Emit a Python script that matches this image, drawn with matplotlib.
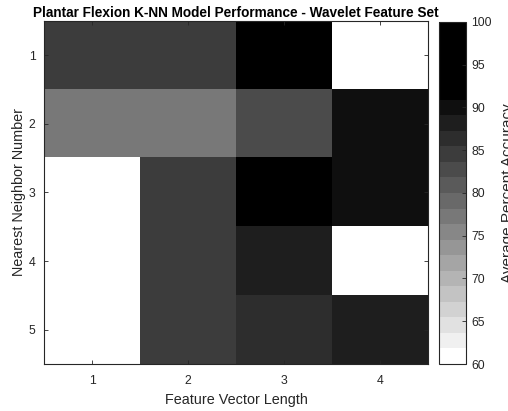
import numpy as np
import matplotlib.pyplot as plt
from matplotlib.colors import ListedColormap

plt.rcParams['font.family'] = ['Liberation Sans', 'DejaVu Sans']

# average percent accuracy, rows = nearest neighbor number, cols = feature vector length
neighbors = [1, 2, 3, 4, 5]
vec_length = [1, 2, 3, 4]
acc = np.array([
    [84.6, 84.6, 95.0, 60.0],
    [77.0, 77.0, 82.7, 90.0],
    [60.0, 84.6, 95.0, 90.0],
    [60.0, 84.6, 88.2, 60.0],
    [60.0, 84.6, 86.4, 88.2],
])

# stepped gray map, white at 60 and black near the top
levels = [max(0, 255 - 15 * k) / 255 for k in range(22)]
cmap = ListedColormap([(g, g, g) for g in levels])

txt = '#262626'

fig = plt.figure(figsize=(5.08, 4.11), dpi=100)
ax = fig.add_axes([44 / 508, 47 / 411, 384 / 508, 343 / 411])
cax = fig.add_axes([439 / 508, 47 / 411, 27 / 508, 342 / 411])

im = ax.imshow(acc, cmap=cmap, vmin=60, vmax=100, aspect='auto',
               extent=[0.5, 4.5, 5.5, 0.5], interpolation='nearest')

ax.set_xticks(vec_length)
ax.set_yticks(neighbors)
ax.tick_params(direction='in', length=3, width=0.6, colors=txt, labelsize=8.8,
               top=True, right=True, labelcolor=txt)
ax.tick_params(axis='x', pad=8)
ax.tick_params(axis='y', pad=6)
for s in ax.spines.values():
    s.set_linewidth(0.8)
    s.set_color('#262626')

ax.set_xlabel('Feature Vector Length', fontsize=10.4, color=txt, labelpad=4)
ax.set_ylabel('Nearest Neighbor Number', fontsize=10.4, color=txt, labelpad=2)
ax.set_title('Plantar Flexion K-NN Model Performance - Wavelet Feature Set',
             fontsize=9.8, fontweight='bold', pad=3)

cb = fig.colorbar(im, cax=cax, ticks=[60, 65, 70, 75, 80, 85, 90, 95, 100])
cb.outline.set_linewidth(0.8)
cb.outline.set_edgecolor('#262626')
cax.tick_params(direction='in', length=3, width=0.6, colors=txt, labelsize=8.8,
                labelcolor=txt, pad=4)

fig.text(501 / 508, 0.53, 'Average Percent Accuracy', rotation=90,
         ha='left', va='center', fontsize=11, color=txt)

plt.savefig('out.png', dpi=100)
